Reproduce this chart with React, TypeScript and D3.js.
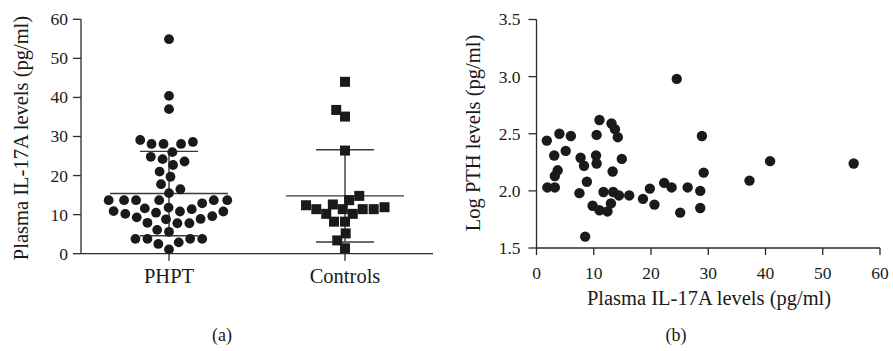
import * as d3 from 'd3';

// panel (a): scatter dot plot, values in pg/ml
const groups = ['PHPT', 'Controls'];
const phptValues = [
  54.9, 40.4, 37.0, 29.1, 28.1, 28.1, 28.1, 28.6, 24.8, 22.7, 23.6, 24.2, 26.0,
  19.7, 21.0, 17.8, 16.5, 15.5, 13.7, 12.9, 13.7, 13.7, 13.7, 13.7, 13.7, 11.6,
  11.8, 11.4, 10.9, 10.2, 9.3, 8.8, 7.9, 7.8, 7.8, 8.9, 9.6, 10.5, 10.8, 10.8,
  6.1, 3.8, 3.8, 2.9, 1.1, 2.5, 3.8, 3.8, 5.6,
];
const controlValues = [
  44.0, 36.8, 35.1, 26.4, 13.7, 14.8, 12.6, 11.4, 11.4, 10.2, 8.2, 8.2, 10.2,
  11.4, 11.4, 11.9, 12.4, 5.2, 3.4, 1.4,
];
const groupMeans = [15.4, 14.8];
const groupSDs = [10.8, 11.8];
const aTicks = [0, 10, 20, 30, 40, 50, 60];

// panel (b): IL-17A vs log PTH
const il17a = [
  1.8, 1.9, 3.2, 4.0, 3.1, 3.7, 3.2, 5.1, 6.0, 7.7, 8.3, 7.5, 8.8, 8.5, 9.8, 11.0,
  12.4, 10.5, 11.0, 10.4, 10.5, 11.7, 13.1, 13.7, 14.2, 13.3, 14.9, 13.4, 14.4,
  13.0, 16.2, 18.6, 19.8, 20.6, 22.3, 23.6, 24.5, 25.1, 26.4, 28.6, 28.6, 28.9,
  29.2, 37.2, 40.8, 55.4,
];
const logPth = [
  2.44, 2.03, 2.03, 2.5, 2.31, 2.18, 2.13, 2.35, 2.48, 2.29, 2.22, 1.98, 2.08,
  1.6, 1.87, 1.83, 1.82, 2.49, 2.62, 2.31, 2.24, 1.99, 2.59, 2.54, 2.47, 2.17,
  2.28, 1.99, 1.96, 1.89, 1.96, 1.93, 2.02, 1.88, 2.07, 2.03, 2.98, 1.81, 2.03,
  2.0, 1.85, 2.48, 2.16, 2.09, 2.26, 2.24,
];
const bxTicks = [0, 10, 20, 30, 40, 50, 60];
const byTicks = [1.5, 2.0, 2.5, 3.0, 3.5];

const FONT = "'Liberation Serif', 'DejaVu Serif', serif";
const AXIS = '#2b2b2b';
const INK = '#1a1a1a';

// simple beeswarm: place each point at the offset closest to the centre
function swarm(values: number[], y: (v: number) => number, d: number) {
  const placed: { x: number; y: number }[] = [];
  const out: number[] = new Array(values.length).fill(0);
  const order = d3.range(values.length).sort((a, b) => values[a] - values[b]);
  for (const i of order) {
    const py = y(values[i]);
    const forb: [number, number][] = [];
    placed.forEach(p => {
      const dy = Math.abs(p.y - py);
      if (dy < d) {
        const w = Math.sqrt(d * d - dy * dy);
        forb.push([p.x - w, p.x + w]);
      }
    });
    const cands = [0];
    forb.forEach(([a, b]) => cands.push(a, b));
    cands.sort((a, b) => Math.abs(a) - Math.abs(b));
    const x = cands.find(c => forb.every(([a, b]) => c <= a + 1e-6 || c >= b - 1e-6)) ?? 0;
    placed.push({ x, y: py });
    out[i] = x;
  }
  return out;
}

export default function App() {
  // ---- panel a
  const ay = d3.scaleLinear().domain([0, 60]).range([253.7, 19.3]);
  const ax = d3.scalePoint().domain(groups).range([81, 433]).padding(0.5);
  const phptX = swarm(phptValues, ay, 12);
  const ctrlX = swarm(controlValues, ay, 11);

  // ---- panel b
  const bx = d3.scaleLinear().domain([0, 60]).range([536.5, 880]);
  const by = d3.scaleLinear().domain([1.5, 3.5]).range([248, 19.5]);

  const txt = { fontFamily: FONT, fill: INK };

  return (
    <svg
      width={893}
      height={351}
      style={{ position: 'absolute', left: 0, top: 0, background: '#fff', fontFamily: FONT }}
    >
      {/* ===== (a) ===== */}
      <g>
        {groups.map((g, gi) => {
          const cx = ax(g) as number;
          const m = groupMeans[gi];
          const s = groupSDs[gi];
          return (
            <g key={g} stroke="#3a3a3a" strokeWidth={1.4}>
              <line x1={cx} x2={cx} y1={ay(m - s)} y2={ay(m + s)} />
              <line x1={cx - 59} x2={cx + 59} y1={ay(m)} y2={ay(m)} />
              <line x1={cx - 29} x2={cx + 29} y1={ay(m + s)} y2={ay(m + s)} />
              <line x1={cx - 29} x2={cx + 29} y1={ay(m - s)} y2={ay(m - s)} />
            </g>
          );
        })}
        {phptValues.map((v, i) => (
          <circle key={i} cx={(ax('PHPT') as number) + phptX[i]} cy={ay(v)} r={4.9} fill={INK} />
        ))}
        {controlValues.map((v, i) => (
          <rect
            key={i}
            x={(ax('Controls') as number) + ctrlX[i] - 5}
            y={ay(v) - 5}
            width={10}
            height={10}
            fill={INK}
          />
        ))}
        <line x1={81} x2={81} y1={ay(60)} y2={ay(0)} stroke={AXIS} strokeWidth={1.3} />
        <line x1={81} x2={433} y1={ay(0)} y2={ay(0)} stroke={AXIS} strokeWidth={1.3} />
        {aTicks.map(t => (
          <g key={t}>
            <line x1={73} x2={81} y1={ay(t)} y2={ay(t)} stroke={AXIS} strokeWidth={1.3} />
            <text x={68} y={ay(t)} dy="0.34em" textAnchor="end" fontSize={17.5} style={txt}>
              {t}
            </text>
          </g>
        ))}
        {groups.map(g => (
          <g key={g}>
            <line x1={ax(g)} x2={ax(g)} y1={ay(0)} y2={ay(0) + 7} stroke={AXIS} strokeWidth={1.3} />
            <text x={ax(g)} y={282.5} textAnchor="middle" fontSize={20.5} style={txt}>
              {g}
            </text>
          </g>
        ))}
        <text
          transform={`translate(28,138) rotate(-90)`}
          textAnchor="middle"
          fontSize={20.5}
          style={txt}
        >
          Plasma IL-17A levels (pg/ml)
        </text>
        <text x={222} y={341} textAnchor="middle" fontSize={18} style={txt}>
          (a)
        </text>
      </g>

      {/* ===== (b) ===== */}
      <g>
        {il17a.map((v, i) => (
          <circle key={i} cx={bx(v)} cy={by(logPth[i])} r={5.2} fill={INK} />
        ))}
        <line x1={bx(0)} x2={bx(0)} y1={by(3.5)} y2={by(1.5)} stroke={AXIS} strokeWidth={1.3} />
        <line x1={bx(0)} x2={bx(60)} y1={by(1.5)} y2={by(1.5)} stroke={AXIS} strokeWidth={1.3} />
        {byTicks.map(t => (
          <g key={t}>
            <line x1={bx(0) - 8} x2={bx(0)} y1={by(t)} y2={by(t)} stroke={AXIS} strokeWidth={1.3} />
            <text x={bx(0) - 16} y={by(t)} dy="0.34em" textAnchor="end" fontSize={17.5} style={txt}>
              {d3.format('.1f')(t)}
            </text>
          </g>
        ))}
        {bxTicks.map(t => (
          <g key={t}>
            <line x1={bx(t)} x2={bx(t)} y1={by(1.5)} y2={by(1.5) + 7} stroke={AXIS} strokeWidth={1.3} />
            <text x={bx(t)} y={278.5} textAnchor="middle" fontSize={17.5} style={txt}>
              {t}
            </text>
          </g>
        ))}
        <text
          transform={`translate(480,133) rotate(-90)`}
          textAnchor="middle"
          fontSize={20.5}
          style={txt}
        >
          Log PTH levels (pg/ml)
        </text>
        <text x={709} y={305} textAnchor="middle" fontSize={20.5} style={txt}>
          Plasma IL-17A levels (pg/ml)
        </text>
        <text x={676} y={341} textAnchor="middle" fontSize={18} style={txt}>
          (b)
        </text>
      </g>
    </svg>
  );
}
